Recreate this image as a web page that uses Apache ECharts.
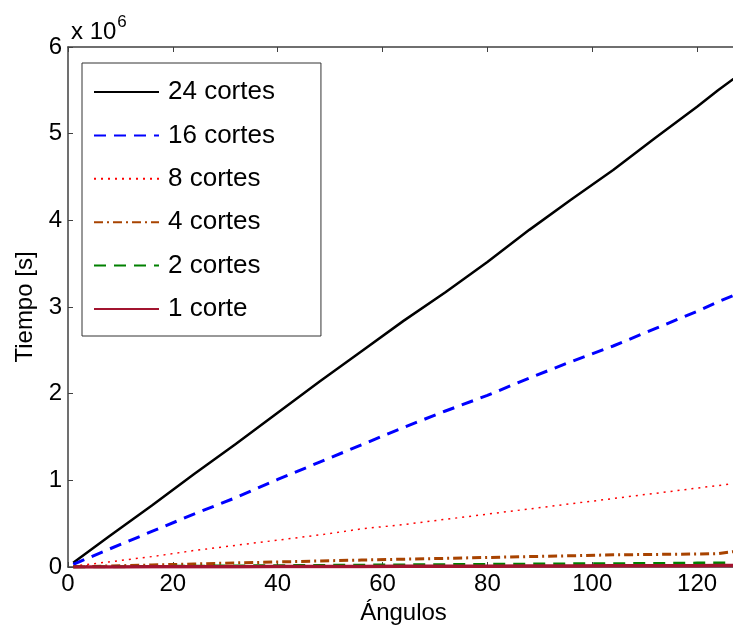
<!DOCTYPE html>
<html>
<head>
<meta charset="utf-8">
<script src="https://cdn.jsdelivr.net/npm/echarts@6/dist/echarts.min.js"></script>
<style>
  html, body { margin: 0; padding: 0; background: #fff; }
  #chart { width: 733px; height: 628px; }
</style>
</head>
<body>
<div id="chart"></div>
<script>
// angulos muestreados
const angulos = [1, 8, 16, 24, 32, 40, 48, 56, 64, 72, 80, 88, 96, 104, 112, 120, 124, 128];

// tiempos en millones de segundos
const cortes24 = [0.05, 0.36, 0.71, 1.07, 1.42, 1.78, 2.14, 2.49, 2.84, 3.17, 3.52, 3.89, 4.24, 4.58, 4.95, 5.31, 5.50, 5.68];
const cortes16 = [0.03, 0.21, 0.41, 0.61, 0.80, 1.01, 1.21, 1.41, 1.61, 1.80, 1.98, 2.18, 2.37, 2.55, 2.75, 2.95, 3.06, 3.16];
const cortes8  = [0.01, 0.06, 0.12, 0.19, 0.25, 0.31, 0.37, 0.44, 0.49, 0.55, 0.61, 0.67, 0.73, 0.79, 0.85, 0.91, 0.94, 0.97];
const cortes4  = [0.002, 0.012, 0.023, 0.035, 0.047, 0.058, 0.07, 0.08, 0.09, 0.10, 0.11, 0.12, 0.13, 0.14, 0.145, 0.15, 0.155, 0.185];
const cortes2  = [0.0, 0.003, 0.006, 0.009, 0.012, 0.015, 0.018, 0.021, 0.024, 0.027, 0.03, 0.033, 0.036, 0.038, 0.04, 0.045, 0.047, 0.048];
const corte1   = [0.0, 0.001, 0.002, 0.003, 0.004, 0.005, 0.006, 0.007, 0.008, 0.009, 0.010, 0.011, 0.012, 0.013, 0.014, 0.015, 0.016, 0.017];

const nombres = ['24 cortes', '16 cortes', '8 cortes', '4 cortes', '2 cortes', '1 corte'];
const valores = [cortes24, cortes16, cortes8, cortes4, cortes2, corte1];
const estilos = [
    {color: '#000000', width: 2.5, type: 'solid'},
    {color: '#0000ff', width: 3, type: [12, 8]},
    {color: '#ff0000', width: 1.5, type: [2, 5]},
    {color: '#a84300', width: 3, type: [9, 4, 2, 4]},
    {color: '#008000', width: 3, type: [12, 8]},
    {color: '#a2142f', width: 3.5, type: 'solid'}
];

const fuente = 'Liberation Sans, Arial, sans-serif';
const ejeColor = '#404040';

const series = nombres.map((nombre, i) => ({
    name: nombre,
    type: 'line',
    symbol: 'none',
    showSymbol: false,
    animation: false,
    color: estilos[i].color,
    lineStyle: estilos[i],
    data: angulos.map((a, j) => [a, valores[i][j]])
}));

function ejeX(pos, etiquetas) {
    return {
        type: 'value', position: pos, min: 0, max: 128, interval: 20,
        name: etiquetas ? 'Ángulos' : '', nameLocation: 'middle', nameGap: 18,
        nameTextStyle: {fontFamily: fuente, fontSize: 24, color: '#000'},
        axisLine: {show: true, onZero: false, lineStyle: {color: ejeColor, width: 1.5}},
        axisTick: {show: true, inside: true, length: 5, lineStyle: {color: ejeColor}},
        axisLabel: {
            show: etiquetas, margin: 5, fontFamily: fuente, fontSize: 24, color: '#000',
            showMaxLabel: false,
            formatter: v => (v % 20 === 0 ? String(v) : '')
        },
        splitLine: {show: false}
    };
}

function ejeY(pos, etiquetas) {
    return {
        type: 'value', position: pos, min: 0, max: 6, interval: 1,
        name: etiquetas ? 'Tiempo [s]' : '', nameLocation: 'middle', nameGap: 28,
        nameTextStyle: {fontFamily: fuente, fontSize: 24, color: '#000'},
        axisLine: {show: true, onZero: false, lineStyle: {color: ejeColor, width: 1.5}},
        axisTick: {show: true, inside: true, length: 5, lineStyle: {color: ejeColor}},
        axisLabel: {show: etiquetas, margin: 6, fontFamily: fuente, fontSize: 24, color: '#000'},
        splitLine: {show: false}
    };
}

const option = {
    backgroundColor: '#ffffff',
    animation: false,
    title: {
        left: 66, top: 9,
        text: '{a|x 10}{b|6}',
        textStyle: {
            fontWeight: 'normal',
            rich: {
                a: {fontFamily: fuente, fontSize: 24, fontWeight: 'normal', color: '#000'},
                b: {fontFamily: fuente, fontSize: 17, fontWeight: 'normal', color: '#000', padding: [0, 0, 19, 1]}
            }
        }
    },
    legend: {
        orient: 'vertical',
        left: 82, top: 63,
        data: nombres,
        itemWidth: 65, itemHeight: 14, itemGap: 17.4,
        padding: [16, 46, 14, 11],
        borderColor: '#333', borderWidth: 1,
        backgroundColor: '#fff',
        itemStyle: {opacity: 0},
        textStyle: {fontFamily: fuente, fontSize: 26, color: '#000', padding: [0, 0, 0, 4]}
    },
    // el grafico original esta recortado a la derecha
    grid: {left: 68, top: 47, width: 671, height: 520, containLabel: false, outerBoundsMode: 'none'},
    xAxis: [ejeX('bottom', true), ejeX('top', false)],
    yAxis: [ejeY('left', true), ejeY('right', false)],
    series: series
};

const myChart = echarts.init(document.getElementById('chart'));
myChart.setOption(option);
</script>
</body>
</html>
